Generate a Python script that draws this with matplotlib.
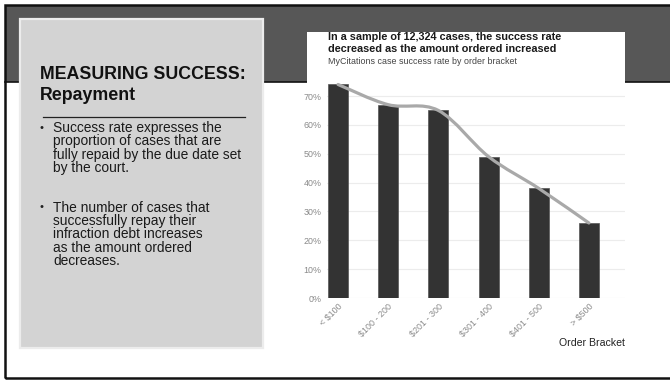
import matplotlib
matplotlib.use("Agg")
import matplotlib.pyplot as plt
from matplotlib.patches import Rectangle, PathPatch
from matplotlib.path import Path
from matplotlib.lines import Line2D
import numpy as np

plt.rcParams['font.family'] = ['Liberation Sans', 'DejaVu Sans']

# data
brackets = ["< $100", "$100 - 200", "$201 - 300", "$301 - 400", "$401 - 500", "> $500"]
success_rate = [74, 67, 65, 49, 38, 26]
y_ticks = [0, 10, 20, 30, 40, 50, 60, 70]

bullet_1 = ["Success rate expresses the", "proportion of cases that are",
            "fully repaid by the due date set", "by the court."]
bullet_2 = ["The number of cases that", "successfully repay their",
            "infraction debt increases", "as the amount ordered", "decreases."]

W, H = 670, 380
fig = plt.figure(figsize=(W / 100, H / 100), dpi=100)
fig.patch.set_facecolor('white')


def fx(x):
    return x / W


def fy(y):
    return 1 - y / H


def rect(x0, y0, x1, y1, **kw):
    fig.add_artist(Rectangle((fx(x0), fy(y1)), fx(x1) - fx(x0), fy(y0) - fy(y1),
                             transform=fig.transFigure, **kw))


# slide frame and header band
rect(6, 6, 680, 82, facecolor='#575757', edgecolor='none', zorder=0)
fig.add_artist(Line2D([fx(5), fx(680)], [fy(82), fy(82)], color='#111111', lw=1.2,
                      transform=fig.transFigure, zorder=0.5))
rect(5, 5, 690, 378, facecolor='none', edgecolor='#111111', lw=1.8, zorder=0.6)

# left text panel
rect(20, 19, 263, 348, facecolor='#d3d3d3', edgecolor='#ececec', lw=1.6, zorder=1)
fig.text(fx(40), fy(79), "MEASURING SUCCESS:", fontsize=12.8, fontweight='bold',
         color='#111111', va='baseline', zorder=2)
fig.text(fx(40), fy(100), "Repayment", fontsize=12.8, fontweight='bold',
         color='#111111', va='baseline', zorder=2)
fig.add_artist(Line2D([fx(43), fx(245)], [fy(117), fy(117)], color='#222222', lw=0.9,
                      transform=fig.transFigure, zorder=2))

for start, lines in [(128, bullet_1), (207.5, bullet_2)]:
    fig.text(fx(39), fy(start), "•", fontsize=8, color='#222222', va='center', zorder=2)
    for i, line in enumerate(lines):
        fig.text(fx(53), fy(start + i * 13.4), line, fontsize=9.9, color='#1a1a1a',
                 va='center', zorder=2)

# chart card
rect(307, 32, 625, 362, facecolor='white', edgecolor='none', zorder=1)
fig.text(fx(328), fy(37.5), "In a sample of 12,324 cases, the success rate", fontsize=7.8,
         fontweight='bold', color='#1a1a1a', va='center', zorder=2)
fig.text(fx(328), fy(48.5), "decreased as the amount ordered increased", fontsize=7.8,
         fontweight='bold', color='#1a1a1a', va='center', zorder=2)
fig.text(fx(328), fy(62), "MyCitations case success rate by order bracket", fontsize=6.4,
         color='#444444', va='center', zorder=2)

ax = fig.add_axes([fx(327), fy(298), fx(625) - fx(327), fy(78.7) - fy(298)])
ax.set_zorder(3)
ax.patch.set_alpha(0)
x = np.arange(len(brackets))
ax.bar(x, success_rate, width=0.4, color='#333333', edgecolor='#555555', linewidth=0.5, zorder=2)

# smooth trend line through the bar tops (Catmull-Rom bezier)
pts = np.column_stack([x, success_rate]).astype(float)
verts = [tuple(pts[0])]
codes = [Path.MOVETO]
for i in range(len(pts) - 1):
    p0 = pts[max(i - 1, 0)]
    p1 = pts[i]
    p2 = pts[i + 1]
    p3 = pts[min(i + 2, len(pts) - 1)]
    c1 = p1 + (p2 - p0) / 6
    c2 = p2 - (p3 - p1) / 6
    verts += [tuple(c1), tuple(c2), tuple(p2)]
    codes += [Path.CURVE4] * 3
ax.add_patch(PathPatch(Path(verts, codes), facecolor='none', edgecolor='#a9a9a9',
                       lw=2.3, capstyle='round', zorder=3))

ax.set_xlim(-0.22, 5.72)
ax.set_ylim(0, 76)
ax.set_yticks(y_ticks)
ax.set_yticklabels([f"{v}%" for v in y_ticks])
ax.set_xticks(x)
ax.set_xticklabels(brackets, rotation=45, ha='right', rotation_mode='anchor')
ax.tick_params(axis='both', length=0, labelsize=6.4, labelcolor='#8a8a8a')
ax.tick_params(axis='y', pad=4)
ax.tick_params(axis='x', pad=3)
ax.grid(axis='y', color='#ececec', lw=0.8, zorder=0)
for s in ax.spines.values():
    s.set_visible(False)

fig.text(fx(625), fy(343), "Order Bracket", fontsize=7.6, color='#222222',
         ha='right', va='center', zorder=2)

fig.savefig("out.png", dpi=100)
